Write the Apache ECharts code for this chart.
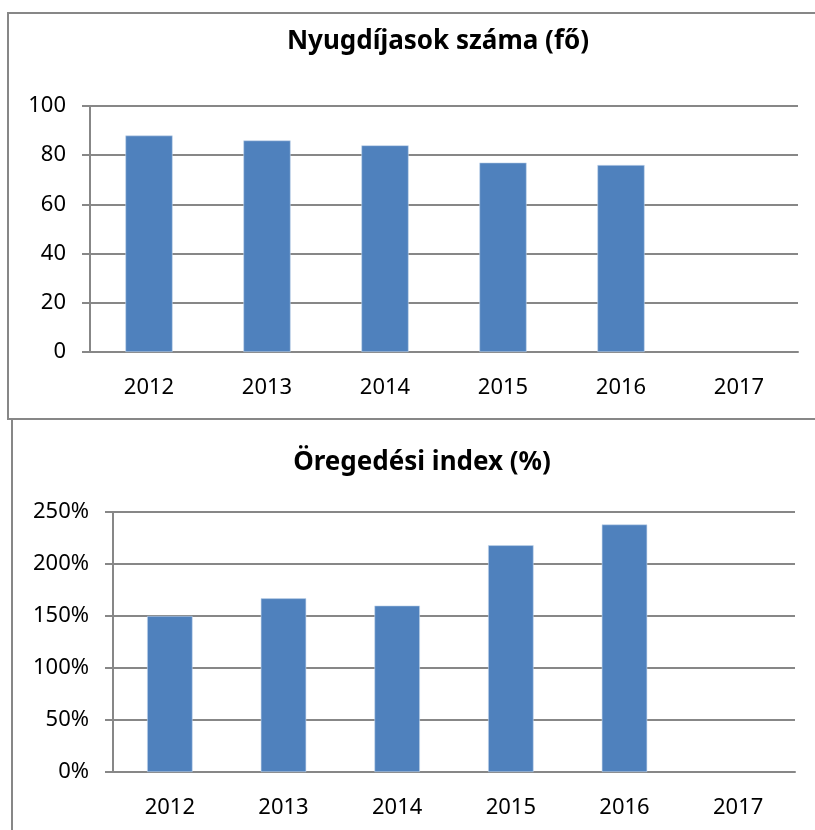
<!DOCTYPE html>
<html lang="hu">

<head>
    <meta charset="UTF-8">
    <title>Nyugdíjasok / Öregedési index</title>
    <script src="https://cdn.jsdelivr.net/npm/echarts@6/dist/echarts.min.js"></script>
    <style>
        html, body { margin: 0; padding: 0; background: #fff; }
        #container { width: 815px; height: 830px; }
    </style>
</head>

<body>
    <div id="container"></div>
    <script type="text/javascript">
        // data
        var years = ['2012', '2013', '2014', '2015', '2016', '2017'];
        var pensioners = [88, 86, 84, 77, 76, null];      // fő
        var agingIndex = [150, 167, 160, 218, 238, null];  // %
        var pensionerTicks = { min: 0, max: 100, interval: 20 };
        var agingTicks = { min: 0, max: 250, interval: 50 };

        var font = 'Noto Sans';
        var grey = '#878787';
        var barColor = '#4f81bd';

        var myChart = echarts.init(document.getElementById('container'), null, { renderer: 'canvas' });

        function xAxis(gridIndex) {
            return {
                type: 'category',
                gridIndex: gridIndex,
                data: years,
                axisLine: { lineStyle: { color: grey, width: 2 } },
                axisTick: { length: 8, lineStyle: { color: grey, width: 2 } },
                axisLabel: { color: '#000', fontFamily: font, fontSize: 22, margin: 25 }
            };
        }

        function yAxis(gridIndex, ticks, suffix) {
            return {
                type: 'value',
                gridIndex: gridIndex,
                min: ticks.min,
                max: ticks.max,
                interval: ticks.interval,
                axisLine: { show: true, lineStyle: { color: grey, width: 2 } },
                axisTick: { show: true, length: 8, lineStyle: { color: grey, width: 2 } },
                splitLine: { lineStyle: { color: grey, width: 2 } },
                axisLabel: {
                    color: '#000', fontFamily: font, fontSize: 22, margin: 24,
                    formatter: function (v) { return v + suffix; }
                }
            };
        }

        var option = {
            backgroundColor: '#fff',
            animation: false,
            title: [
                {
                    text: 'Nyugdíjasok száma (fő)',
                    left: 433, top: 24, textAlign: 'center',
                    textStyle: { fontFamily: font, fontSize: 26, fontWeight: 'bold', color: '#000' }
                },
                {
                    text: 'Öregedési index (%)',
                    left: 417, top: 445, textAlign: 'center',
                    textStyle: { fontFamily: font, fontSize: 26, fontWeight: 'bold', color: '#000' }
                }
            ],
            graphic: [
                {
                    type: 'rect', silent: true, z: -1,
                    shape: { x: 8, y: 13, width: 830, height: 406 },
                    style: { fill: 'none', stroke: grey, lineWidth: 2 }
                },
                {
                    type: 'rect', silent: true, z: -1,
                    shape: { x: 12, y: 419, width: 830, height: 430 },
                    style: { fill: 'none', stroke: grey, lineWidth: 2 }
                }
            ],
            grid: [
                { left: 90, top: 106, width: 708, height: 246 },
                { left: 113, top: 512, width: 682, height: 260 }
            ],
            xAxis: [xAxis(0), xAxis(1)],
            yAxis: [yAxis(0, pensionerTicks, ''), yAxis(1, agingTicks, '%')],
            series: [
                {
                    name: 'Nyugdíjasok száma',
                    type: 'bar',
                    xAxisIndex: 0, yAxisIndex: 0,
                    barWidth: '40%',
                    itemStyle: { color: barColor, borderColor: '#c6d6ec', borderWidth: 0.6 },
                    data: pensioners
                },
                {
                    name: 'Öregedési index',
                    type: 'bar',
                    xAxisIndex: 1, yAxisIndex: 1,
                    barWidth: '40%',
                    itemStyle: { color: barColor, borderColor: '#c6d6ec', borderWidth: 0.6 },
                    data: agingIndex
                }
            ]
        };

        myChart.setOption(option);
        window.addEventListener('resize', myChart.resize);
    </script>
</body>

</html>
